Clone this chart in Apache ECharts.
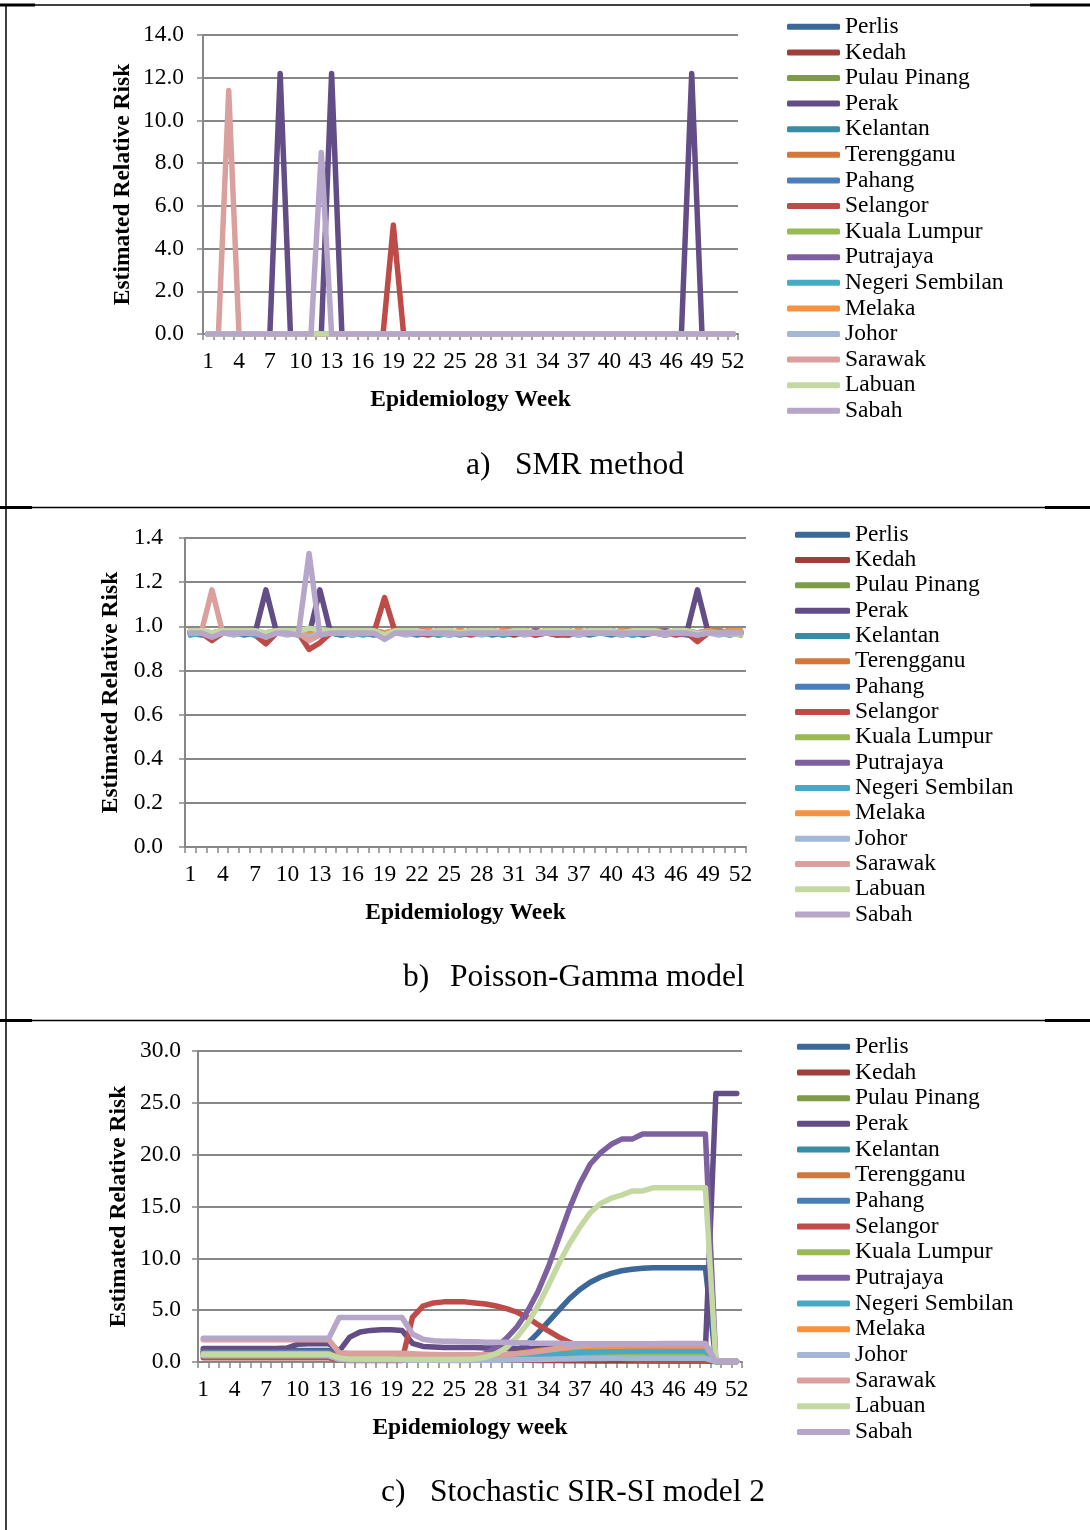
<!DOCTYPE html>
<html><head><meta charset="utf-8">
<script src="https://cdn.jsdelivr.net/npm/echarts@6/dist/echarts.min.js"></script>
<style>html,body{margin:0;padding:0;background:#fff}#c{width:1090px;height:1530px}</style>
</head><body><div id="c"></div>
<script>
const weeks = [1,2,3,4,5,6,7,8,9,10,11,12,13,14,15,16,17,18,19,20,21,22,23,24,25,26,27,28,29,30,31,32,33,34,35,36,37,38,39,40,41,42,43,44,45,46,47,48,49,50,51,52];
const states = ['Perlis','Kedah','Pulau Pinang','Perak','Kelantan','Terengganu','Pahang','Selangor','Kuala Lumpur','Putrajaya','Negeri Sembilan','Melaka','Johor','Sarawak','Labuan','Sabah'];
const colors = ['#3C6799','#9F3F3C','#7E9C47','#634D86','#388CA3','#D3783A','#4A7EBB','#BE4B48','#98B954','#7D60A0','#46AAC5','#F69240','#A4B8D6','#D9A09E','#C4D8A2','#B5A6CA'];
const smrTicks = [0,2,4,6,8,10,12,14];
const pgTicks = [0,0.2,0.4,0.6,0.8,1.0,1.2,1.4];
const sirTicks = [0,5,10,15,20,25,30];

// a) SMR method
const smrZeros = [0,0,0,0,0,0,0,0,0,0, 0,0,0,0,0,0,0,0,0,0, 0,0,0,0,0,0,0,0,0,0, 0,0,0,0,0,0,0,0,0,0, 0,0,0,0,0,0,0,0,0,0, 0,0];
const smrPerak = [0,0,0,0,0,0,0,12.2,0,0, 0,0,12.2,0,0,0,0,0,0,0, 0,0,0,0,0,0,0,0,0,0, 0,0,0,0,0,0,0,0,0,0, 0,0,0,0,0,0,0,12.2,0,0, 0,0];
const smrSelangor = [0,0,0,0,0,0,0,0,0,0, 0,0,0,0,0,0,0,0,5.1,0, 0,0,0,0,0,0,0,0,0,0, 0,0,0,0,0,0,0,0,0,0, 0,0,0,0,0,0,0,0,0,0, 0,0];
const smrSarawak = [0,0,11.4,0,0,0,0,0,0,0, 0,0,0,0,0,0,0,0,0,0, 0,0,0,0,0,0,0,0,0,0, 0,0,0,0,0,0,0,0,0,0, 0,0,0,0,0,0,0,0,0,0, 0,0];
const smrSabah = [0,0,0,0,0,0,0,0,0,0, 0,8.5,0,0,0,0,0,0,0,0, 0,0,0,0,0,0,0,0,0,0, 0,0,0,0,0,0,0,0,0,0, 0,0,0,0,0,0,0,0,0,0, 0,0];

// b) Poisson-Gamma model
const pgPerlis = [0.97,0.97,0.96,0.97,0.97,0.97,0.97,0.96,0.97,0.97, 0.97,0.96,0.96,0.97,0.97,0.96,0.97,0.97,0.96,0.97, 0.97,0.97,0.98,0.97,0.97,0.97,0.98,0.97,0.97,0.97, 0.97,0.98,0.97,0.97,0.97,0.97,0.98,0.97,0.97,0.97, 0.97,0.96,0.97,0.97,0.97,0.97,0.97,0.96,0.97,0.97, 0.97,0.97];
const pgKedah = [0.97,0.97,0.95,0.97,0.98,0.97,0.97,0.95,0.97,0.97, 0.97,0.95,0.96,0.98,0.97,0.97,0.98,0.97,0.96,0.97, 0.98,0.97,0.97,0.96,0.97,0.98,0.97,0.97,0.98,0.97, 0.96,0.97,0.98,0.97,0.96,0.97,0.97,0.98,0.97,0.97, 0.97,0.98,0.97,0.97,0.96,0.97,0.98,0.95,0.97,0.97, 0.98,0.97];
const pgPinang = [0.98,0.97,0.96,0.98,0.97,0.97,0.98,0.96,0.97,0.98, 0.97,0.96,0.97,0.97,0.98,0.97,0.97,0.97,0.96,0.98, 0.97,0.98,0.97,0.97,0.97,0.97,0.98,0.97,0.97,0.98, 0.97,0.97,0.97,0.98,0.97,0.97,0.97,0.97,0.98,0.97, 0.98,0.97,0.97,0.97,0.98,0.97,0.97,0.96,0.98,0.97, 0.97,0.97];
const pgPerak = [0.97,0.97,0.96,0.97,0.97,0.97,0.97,1.165,0.97,0.97, 0.97,0.96,1.165,0.97,0.97,0.97,0.97,0.97,0.96,0.97, 0.97,0.97,0.97,0.98,0.97,0.97,0.97,0.97,0.97,0.97, 0.97,0.97,0.97,0.97,0.98,0.97,0.97,0.97,0.97,0.97, 0.97,0.97,0.97,0.97,0.97,0.97,0.97,1.165,0.97,0.97, 0.97,0.97];
const pgKelantan = [0.97,0.98,0.96,0.97,0.97,0.98,0.97,0.96,0.98,0.97, 0.97,0.96,0.97,0.97,0.96,0.97,0.98,0.97,0.96,0.97, 0.97,0.97,0.98,0.97,0.97,0.96,0.97,0.98,0.97,0.97, 0.98,0.97,0.97,0.97,0.97,0.98,0.97,0.96,0.97,0.98, 0.97,0.97,0.96,0.98,0.97,0.97,0.97,0.96,0.97,0.98, 0.97,0.97];
const pgTerengganu = [0.98,0.97,0.97,0.98,0.97,0.98,0.97,0.96,0.97,0.98, 0.98,0.97,0.97,0.98,0.98,0.97,0.97,0.98,0.97,0.98, 0.97,0.98,0.98,0.97,0.98,0.97,0.98,0.98,0.97,0.98, 0.98,0.97,0.98,0.97,0.98,0.98,0.97,0.98,0.98,0.97, 0.98,0.98,0.97,0.98,0.98,0.97,0.98,0.97,0.98,0.98, 0.97,0.98];
const pgPahang = [0.97,0.96,0.96,0.97,0.97,0.96,0.97,0.96,0.97,0.97, 0.96,0.96,0.97,0.97,0.96,0.97,0.97,0.96,0.96,0.97, 0.97,0.96,0.97,0.97,0.96,0.97,0.97,0.97,0.96,0.97, 0.97,0.97,0.96,0.97,0.97,0.96,0.97,0.97,0.97,0.96, 0.97,0.97,0.96,0.97,0.97,0.97,0.96,0.96,0.97,0.97, 0.96,0.97];
const pgSelangor = [0.97,0.97,0.935,0.97,0.97,0.97,0.96,0.92,0.97,0.97, 0.97,0.895,0.925,0.97,0.97,0.97,0.97,0.97,1.13,0.97, 0.97,0.97,0.96,0.97,0.97,0.97,0.96,0.97,0.97,0.96, 0.97,0.97,0.96,0.97,0.96,0.96,0.97,0.97,0.97,0.97, 0.96,0.97,0.97,0.97,0.97,0.96,0.97,0.93,0.97,0.97, 0.97,0.97];
const pgKL = [0.97,0.98,0.97,0.97,0.98,0.97,0.97,0.97,0.98,0.97, 0.97,0.97,0.97,0.98,0.97,0.97,0.97,0.98,0.97,0.97, 0.98,0.97,0.97,0.97,0.98,0.97,0.97,0.97,0.98,0.97, 0.97,0.98,0.97,0.97,0.97,0.97,0.98,0.97,0.97,0.97, 0.98,0.97,0.97,0.98,0.97,0.97,0.97,0.97,0.98,0.97, 0.97,0.96];
const pgPutrajaya = [0.98,0.97,0.97,0.97,0.97,0.98,0.97,0.97,0.97,0.98, 0.97,0.97,0.98,0.97,0.97,0.98,0.97,0.97,0.97,0.97, 0.97,0.98,0.97,0.97,0.97,0.97,0.97,0.98,0.97,0.97, 0.97,0.97,0.98,0.97,0.97,0.97,0.97,0.97,0.97,0.98, 0.97,0.97,0.97,0.97,0.98,0.97,0.97,0.97,0.97,0.97, 0.98,0.97];
const pgNS = [0.96,0.97,0.96,0.97,0.97,0.97,0.96,0.96,0.97,0.97, 0.97,0.95,0.96,0.97,0.97,0.97,0.96,0.97,0.96,0.97, 0.97,0.97,0.97,0.96,0.97,0.97,0.97,0.97,0.97,0.96, 0.97,0.97,0.97,0.97,0.97,0.97,0.96,0.97,0.97,0.97, 0.97,0.96,0.97,0.97,0.97,0.97,0.97,0.96,0.97,0.97, 0.97,0.97];
const pgMelaka = [0.98,0.97,0.97,0.98,0.97,0.97,0.97,0.97,0.98,0.97, 0.98,0.96,0.97,0.98,0.97,0.98,0.97,0.97,0.97,0.98, 0.97,0.97,0.98,0.97,0.97,0.98,0.97,0.97,0.97,0.98, 0.97,0.98,0.97,0.98,0.97,0.97,0.98,0.97,0.98,0.97, 0.98,0.97,0.98,0.97,0.97,0.98,0.97,0.97,0.98,0.97, 0.98,0.98];
const pgJohor = [0.97,0.97,0.96,0.97,0.96,0.97,0.97,0.96,0.97,0.96, 0.97,0.95,0.97,0.97,0.97,0.96,0.97,0.97,0.96,0.97, 0.96,0.97,0.97,0.97,0.96,0.97,0.97,0.96,0.97,0.97, 0.97,0.96,0.97,0.97,0.97,0.97,0.96,0.97,0.97,0.97, 0.96,0.97,0.97,0.97,0.96,0.97,0.97,0.97,0.97,0.96, 0.97,0.97];
const pgSarawak = [0.97,0.97,1.165,0.97,0.97,0.97,0.97,0.96,0.97,0.97, 0.97,0.935,0.96,0.97,0.97,0.97,0.97,0.97,0.96,0.97, 0.97,0.97,0.97,0.97,0.97,0.97,0.97,0.97,0.97,0.97, 0.97,0.97,0.97,0.97,0.97,0.97,0.97,0.97,0.97,0.97, 0.97,0.97,0.97,0.97,0.97,0.97,0.97,0.96,0.97,0.97, 0.97,0.97];
const pgLabuan = [0.98,0.98,0.97,0.98,0.98,0.98,0.98,0.97,0.98,0.98, 0.98,0.99,0.985,0.98,0.98,0.98,0.98,0.98,0.96,0.98, 0.98,0.98,0.97,0.98,0.98,0.97,0.98,0.98,0.98,0.97, 0.98,0.98,0.97,0.98,0.98,0.98,0.97,0.98,0.98,0.98, 0.97,0.98,0.98,0.98,0.97,0.98,0.98,0.965,0.97,0.97, 0.965,0.965];
const pgSabah = [0.97,0.97,0.95,0.97,0.97,0.97,0.97,0.95,0.97,0.97, 0.96,1.33,0.96,0.97,0.97,0.97,0.97,0.97,0.94,0.97, 0.97,0.97,0.97,0.97,0.97,0.965,0.97,0.97,0.97,0.97, 0.97,0.97,0.97,0.97,0.97,0.97,0.97,0.97,0.97,0.97, 0.97,0.97,0.97,0.97,0.97,0.97,0.97,0.96,0.97,0.97, 0.97,0.97];

// c) Stochastic SIR-SI model 2
const sirPerlis = [1.1,1.1,1.1,1.1,1.1,1.1,1.1,1.1,1.1,1.1, 1.1,1.1,1.1,0.7,0.5,0.5,0.5,0.5,0.5,0.5, 0.45,0.45,0.45,0.45,0.45,0.45,0.45,0.5,0.55,0.7, 1.1,1.8,2.8,3.9,5.0,6.1,7.0,7.7,8.2,8.55, 8.8,8.95,9.05,9.1,9.1,9.1,9.1,9.1,9.1,0.05, 0.05,0.05];
const sirKedah = [0.8,0.8,0.8,0.8,0.8,0.8,0.8,0.8,0.8,0.8, 0.8,0.8,0.8,0.4,0.3,0.3,0.3,0.3,0.3,0.3, 0.25,0.25,0.25,0.25,0.2,0.2,0.2,0.2,0.2,0.2, 0.2,0.2,0.15,0.15,0.15,0.12,0.12,0.1,0.1,0.1, 0.1,0.1,0.1,0.1,0.1,0.1,0.1,0.1,0.1,0.05, 0.05,0.05];
const sirPinang = [0.75,0.75,0.75,0.75,0.75,0.75,0.75,0.75,0.75,0.75, 0.75,0.75,0.75,0.35,0.3,0.3,0.3,0.3,0.3,0.3, 0.28,0.28,0.27,0.27,0.27,0.27,0.28,0.28,0.3,0.32, 0.35,0.4,0.45,0.5,0.55,0.6,0.65,0.68,0.7,0.7, 0.7,0.7,0.7,0.7,0.7,0.7,0.7,0.7,0.7,0.05, 0.05,0.05];
const sirPerak = [1.3,1.3,1.3,1.3,1.3,1.3,1.3,1.3,1.35,1.7, 1.75,1.75,1.75,1.05,2.4,2.9,3.05,3.1,3.1,3.05, 1.8,1.5,1.45,1.4,1.4,1.4,1.4,1.35,1.35,1.35, 1.3,1.3,1.3,1.3,1.3,1.25,1.25,1.25,1.25,1.2, 1.2,1.2,1.2,1.2,1.2,1.2,1.2,1.2,1.15,25.9, 25.9,25.9];
const sirKelantan = [0.85,0.85,0.85,0.85,0.85,0.85,0.85,0.85,0.85,0.85, 0.85,0.85,0.85,0.35,0.3,0.3,0.3,0.3,0.3,0.3, 0.28,0.27,0.27,0.27,0.27,0.28,0.3,0.32,0.35,0.4, 0.45,0.52,0.6,0.68,0.75,0.82,0.88,0.92,0.95,0.97, 0.98,0.99,1.0,1.0,1.0,1.0,1.0,1.0,1.0,0.05, 0.05,0.05];
const sirTerengganu = [0.8,0.8,0.8,0.8,0.8,0.8,0.8,0.8,0.8,0.8, 0.8,0.8,0.8,0.35,0.3,0.3,0.3,0.3,0.3,0.3, 0.3,0.3,0.3,0.3,0.32,0.35,0.4,0.45,0.55,0.65, 0.75,0.85,0.95,1.05,1.12,1.18,1.22,1.25,1.27,1.28, 1.3,1.3,1.3,1.3,1.3,1.3,1.3,1.3,1.3,0.05, 0.05,0.05];
const sirPahang = [0.95,0.95,0.95,0.95,0.95,0.95,0.95,0.95,0.95,0.95, 0.95,0.95,0.95,0.4,0.3,0.3,0.3,0.3,0.3,0.3, 0.25,0.25,0.25,0.25,0.25,0.25,0.25,0.25,0.25,0.25, 0.27,0.3,0.33,0.36,0.4,0.43,0.46,0.48,0.5,0.5, 0.5,0.5,0.5,0.5,0.5,0.5,0.5,0.5,0.5,0.05, 0.05,0.05];
const sirSelangor = [0.4,0.4,0.4,0.4,0.4,0.4,0.4,0.4,0.4,0.4, 0.4,0.4,0.4,0.2,0.15,0.15,0.15,0.15,0.15,0.15, 4.3,5.4,5.7,5.8,5.8,5.8,5.7,5.6,5.4,5.15, 4.8,4.3,3.6,3.0,2.4,1.9,1.5,1.1,0.8,0.55, 0.35,0.25,0.15,0.12,0.1,0.1,0.1,0.1,0.1,0.05, 0.05,0.05];
const sirKL = [0.8,0.8,0.8,0.8,0.8,0.8,0.8,0.8,0.8,0.8, 0.8,0.8,0.8,0.35,0.3,0.3,0.3,0.3,0.3,0.3, 0.27,0.26,0.25,0.25,0.25,0.26,0.28,0.3,0.33,0.37, 0.42,0.47,0.53,0.58,0.63,0.68,0.72,0.75,0.78,0.8, 0.82,0.83,0.84,0.85,0.85,0.85,0.85,0.85,0.85,0.05, 0.05,0.05];
const sirPutrajaya = [0.9,0.9,0.9,0.9,0.9,0.9,0.9,0.9,0.9,0.9, 0.9,0.9,0.9,0.45,0.4,0.4,0.4,0.4,0.4,0.4, 0.35,0.35,0.35,0.35,0.35,0.4,0.5,0.8,1.4,2.3, 3.4,4.9,6.8,9.2,12.0,14.8,17.2,19.1,20.2,21.0, 21.5,21.5,22.0,22.0,22.0,22.0,22.0,22.0,22.0,0.05, 0.05,0.05];
const sirNS = [0.85,0.85,0.85,0.85,0.85,0.85,0.85,0.85,0.85,0.85, 0.85,0.85,0.85,0.35,0.3,0.3,0.3,0.3,0.3,0.3, 0.27,0.26,0.25,0.25,0.25,0.27,0.3,0.33,0.38,0.44, 0.5,0.57,0.65,0.72,0.8,0.87,0.93,0.97,1.0,1.02, 1.03,1.04,1.05,1.05,1.05,1.05,1.05,1.05,1.05,0.05, 0.05,0.05];
const sirMelaka = [0.8,0.8,0.8,0.8,0.8,0.8,0.8,0.8,0.8,0.8, 0.8,0.8,0.8,0.35,0.3,0.3,0.3,0.3,0.3,0.3, 0.3,0.3,0.3,0.3,0.32,0.35,0.4,0.48,0.58,0.7, 0.82,0.95,1.08,1.2,1.3,1.38,1.44,1.48,1.5,1.52, 1.53,1.54,1.55,1.55,1.55,1.55,1.55,1.55,1.55,0.05, 0.05,0.05];
const sirJohor = [0.6,0.6,0.6,0.6,0.6,0.6,0.6,0.6,0.6,0.6, 0.6,0.6,0.6,0.25,0.2,0.2,0.2,0.2,0.2,0.2, 0.18,0.17,0.16,0.15,0.15,0.15,0.16,0.17,0.18,0.2, 0.21,0.23,0.25,0.27,0.29,0.3,0.32,0.33,0.34,0.35, 0.35,0.35,0.35,0.35,0.35,0.35,0.35,0.35,0.35,0.05, 0.05,0.05];
const sirSarawak = [2.15,2.15,2.15,2.15,2.15,2.15,2.15,2.15,2.15,2.15, 2.15,2.15,2.15,0.9,0.85,0.85,0.85,0.85,0.85,0.85, 0.8,0.75,0.72,0.7,0.7,0.7,0.7,0.7,0.72,0.75, 0.8,0.88,1.0,1.15,1.3,1.45,1.57,1.65,1.7,1.72, 1.74,1.75,1.76,1.77,1.78,1.78,1.78,1.78,1.78,0.05, 0.05,0.05];
const sirLabuan = [0.75,0.75,0.75,0.75,0.75,0.75,0.75,0.75,0.75,0.75, 0.75,0.75,0.75,0.4,0.3,0.3,0.3,0.28,0.28,0.27, 0.26,0.25,0.25,0.25,0.25,0.27,0.3,0.45,0.8,1.4, 2.4,3.7,5.4,7.4,9.5,11.4,13.0,14.4,15.3,15.8, 16.1,16.5,16.5,16.8,16.8,16.8,16.8,16.8,16.8,0.05, 0.05,0.05];
const sirSabah = [2.3,2.3,2.3,2.3,2.3,2.3,2.3,2.3,2.3,2.3, 2.3,2.3,2.3,4.3,4.3,4.3,4.3,4.3,4.3,4.3, 2.7,2.2,2.05,2.0,2.0,1.95,1.95,1.9,1.9,1.9, 1.85,1.85,1.8,1.8,1.8,1.75,1.75,1.75,1.75,1.75, 1.75,1.75,1.75,1.75,1.75,1.75,1.75,1.75,1.75,0.05, 0.05,0.05];

const smrData = [smrZeros,smrZeros,smrZeros,smrPerak,smrZeros,smrZeros,smrZeros,smrSelangor,smrZeros,smrZeros,smrZeros,smrZeros,smrZeros,smrSarawak,smrZeros,smrSabah];
const pgData = [pgPerlis,pgKedah,pgPinang,pgPerak,pgKelantan,pgTerengganu,pgPahang,pgSelangor,pgKL,pgPutrajaya,pgNS,pgMelaka,pgJohor,pgSarawak,pgLabuan,pgSabah];
const sirData = [sirPerlis,sirKedah,sirPinang,sirPerak,sirKelantan,sirTerengganu,sirPahang,sirSelangor,sirKL,sirPutrajaya,sirNS,sirMelaka,sirJohor,sirSarawak,sirLabuan,sirSabah];

const FONT = '"Liberation Serif","Times New Roman",serif';
const GRAY = '#878787';
const FS = 23.5;
const panels = [
  {grid:{left:203,top:35,width:535,height:299}, ticks:smrTicks, data:smrData, xName:'Epidemiology Week', yGap:68, yMargin:19, legend:{left:787,top:14,w:53,lh:25.6}, cap:{a:'a)', t:'SMR method', ax:466, tx:515, y:450}},
  {grid:{left:185,top:538,width:561,height:309}, ticks:pgTicks, data:pgData, xName:'Epidemiology Week', yGap:58, yMargin:22, legend:{left:795,top:522,w:55,lh:25.33}, cap:{a:'b)', t:'Poisson-Gamma model', ax:403, tx:450, y:962}},
  {grid:{left:198,top:1051,width:544,height:311}, ticks:sirTicks, data:sirData, xName:'Epidemiology week', yGap:67, yMargin:17, legend:{left:797,top:1034,w:53,lh:25.67}, cap:{a:'c)', t:'Stochastic SIR-SI model 2', ax:381, tx:430, y:1477}}
];

const graphics = [
  {type:'line', shape:{x1:0,y1:5,x2:1090,y2:5}, style:{stroke:'#000', lineWidth:1.5}},
  {type:'line', shape:{x1:0,y1:5,x2:35,y2:5}, style:{stroke:'#000', lineWidth:3}},
  {type:'line', shape:{x1:1030,y1:5,x2:1090,y2:5}, style:{stroke:'#000', lineWidth:3}},
  {type:'line', shape:{x1:6,y1:4,x2:6,y2:1530}, style:{stroke:'#000', lineWidth:1.5}},
  {type:'line', shape:{x1:0,y1:507.5,x2:1090,y2:507.5}, style:{stroke:'#000', lineWidth:1.5}},
  {type:'line', shape:{x1:0,y1:507.5,x2:32,y2:507.5}, style:{stroke:'#000', lineWidth:3}},
  {type:'line', shape:{x1:1045,y1:507.5,x2:1090,y2:507.5}, style:{stroke:'#000', lineWidth:3}},
  {type:'line', shape:{x1:0,y1:1020.5,x2:1090,y2:1020.5}, style:{stroke:'#000', lineWidth:1.5}},
  {type:'line', shape:{x1:0,y1:1020.5,x2:32,y2:1020.5}, style:{stroke:'#000', lineWidth:3}},
  {type:'line', shape:{x1:1045,y1:1020.5,x2:1090,y2:1020.5}, style:{stroke:'#000', lineWidth:3}}
];
panels.forEach(p => {
  graphics.push({type:'text', left:p.cap.ax, top:p.cap.y, style:{text:p.cap.a, font:'31.5px '+FONT, fill:'#000'}});
  graphics.push({type:'text', left:p.cap.tx, top:p.cap.y, style:{text:p.cap.t, font:'31.5px '+FONT, fill:'#000'}});
});

const option = {
  animation:false,
  backgroundColor:'#fff',
  grid: panels.map(p => Object.assign({containLabel:false}, p.grid)),
  xAxis: panels.map((p,i) => ({
    type:'category', gridIndex:i, data:weeks, boundaryGap:true,
    axisLine:{show:true, lineStyle:{color:GRAY, width:2}},
    axisTick:{show:true, interval:0, length:6, lineStyle:{color:GRAY, width:1.5}},
    axisLabel:{interval:2, color:'#000', fontFamily:FONT, fontSize:FS, margin:16},
    splitLine:{show:false},
    name:p.xName, nameLocation:'middle', nameGap:54,
    nameTextStyle:{fontFamily:FONT, fontSize:FS, fontWeight:'bold', color:'#000'}
  })),
  yAxis: panels.map((p,i) => ({
    type:'value', gridIndex:i, min:p.ticks[0], max:p.ticks[p.ticks.length-1], interval:p.ticks[1]-p.ticks[0],
    axisLine:{show:true, lineStyle:{color:GRAY, width:2}},
    axisTick:{show:true, length:6, lineStyle:{color:GRAY, width:1.5}},
    axisLabel:{color:'#000', fontFamily:FONT, fontSize:FS, margin:p.yMargin, formatter:v => v.toFixed(1)},
    splitLine:{show:true, lineStyle:{color:GRAY, width:2}},
    name:'Estimated Relative Risk', nameLocation:'middle', nameGap:p.yGap, nameRotate:90,
    nameTextStyle:{fontFamily:FONT, fontSize:FS, fontWeight:'bold', color:'#000'}
  })),
  legend: panels.map(p => ({
    orient:'vertical', left:p.legend.left, top:p.legend.top, itemWidth:p.legend.w, itemHeight:6, itemGap:0,
    icon:'roundRect', selectedMode:false, padding:0,
    textStyle:{fontFamily:FONT, fontSize:FS, color:'#000', lineHeight:p.legend.lh},
    data:states
  })),
  series: [],
  graphic: graphics
};
panels.forEach((p,pi) => {
  states.forEach((s,si) => {
    option.series.push({
      type:'line', name:s, xAxisIndex:pi, yAxisIndex:pi, data:p.data[si],
      symbol:'none', showSymbol:false, silent:true,
      lineStyle:{color:colors[si], width:5.5, cap:'round', join:'round'},
      itemStyle:{color:colors[si]},
      emphasis:{disabled:true}
    });
  });
});
const chart = echarts.init(document.getElementById('c'), null, {renderer:'canvas', width:1090, height:1530});
chart.setOption(option);
</script>
</body></html>
